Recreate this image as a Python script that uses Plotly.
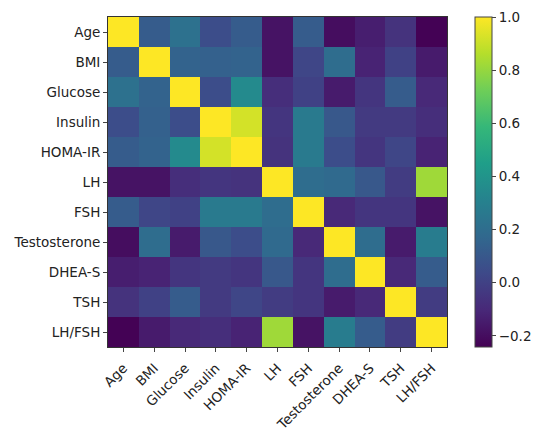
import plotly.graph_objects as go

labels = ['Age', 'BMI', 'Glucose', 'Insulin', 'HOMA-IR', 'LH', 'FSH',
          'Testosterone', 'DHEA-S', 'TSH', 'LH/FSH']

# correlation matrix (row by row)
age = [1.00, 0.12, 0.22, 0.05, 0.12, -0.18, 0.12, -0.20, -0.14, -0.06, -0.24]
bmi = [0.12, 1.00, 0.15, 0.14, 0.15, -0.18, 0.02, 0.20, -0.12, 0.00, -0.15]
glucose = [0.22, 0.15, 1.00, 0.05, 0.35, -0.08, 0.00, -0.15, -0.05, 0.12, -0.10]
insulin = [0.05, 0.14, 0.05, 1.00, 0.92, -0.05, 0.27, 0.10, -0.03, -0.03, -0.08]
homa_ir = [0.12, 0.15, 0.35, 0.92, 1.00, -0.06, 0.27, 0.05, -0.05, 0.02, -0.12]
lh = [-0.18, -0.18, -0.08, -0.05, -0.06, 1.00, 0.20, 0.18, 0.10, -0.02, 0.82]
fsh = [0.12, 0.02, 0.00, 0.27, 0.27, 0.20, 1.00, -0.10, -0.05, -0.05, -0.18]
testosterone = [-0.20, 0.20, -0.15, 0.10, 0.05, 0.18, -0.10, 1.00, 0.20, -0.15, 0.28]
dhea_s = [-0.14, -0.12, -0.05, -0.03, -0.05, 0.10, -0.05, 0.20, 1.00, -0.10, 0.12]
tsh = [-0.06, 0.00, 0.12, -0.03, 0.02, -0.02, -0.05, -0.15, -0.10, 1.00, -0.02]
lh_fsh = [-0.24, -0.15, -0.10, -0.08, -0.12, 0.82, -0.18, 0.28, 0.12, -0.02, 1.00]

corr = [age, bmi, glucose, insulin, homa_ir, lh, fsh, testosterone, dhea_s, tsh, lh_fsh]

font = dict(family='DejaVu Sans', size=13.5, color='#222222')

fig = go.Figure(go.Heatmap(
    z=corr, x=labels, y=labels,
    colorscale='Viridis', zmin=-0.242, zmax=1.0,
    colorbar=dict(
        x=1.084, xanchor='left', xpad=0, y=0.5, len=1.0, ypad=0, thickness=17,
        outlinewidth=1, outlinecolor='#444444',
        tickvals=[-0.2, 0.0, 0.2, 0.4, 0.6, 0.8, 1.0], tickformat='.1f',
        ticks='outside', ticklen=4, tickcolor='#444444',
        tickfont=font,
    ),
))

fig.update_xaxes(tickangle=-45, ticks='outside', ticklen=4, tickcolor='#444444',
                 ticklabelstandoff=3,
                 showline=True, linecolor='#333333', linewidth=1, mirror=True,
                 tickfont=font, showgrid=False, automargin=False)
fig.update_yaxes(autorange='reversed', ticks='outside', ticklen=4, tickcolor='#444444',
                 showline=True, linecolor='#333333', linewidth=1, mirror=True,
                 tickfont=font, showgrid=False, automargin=False)

# page body adds 8px around the figure, so keep the whole thing inside 550x430
fig.update_layout(width=534, height=421,
                  margin=dict(l=100, r=86, t=9, b=82),
                  plot_bgcolor='white', paper_bgcolor='white')

fig.write_html('out.html')
